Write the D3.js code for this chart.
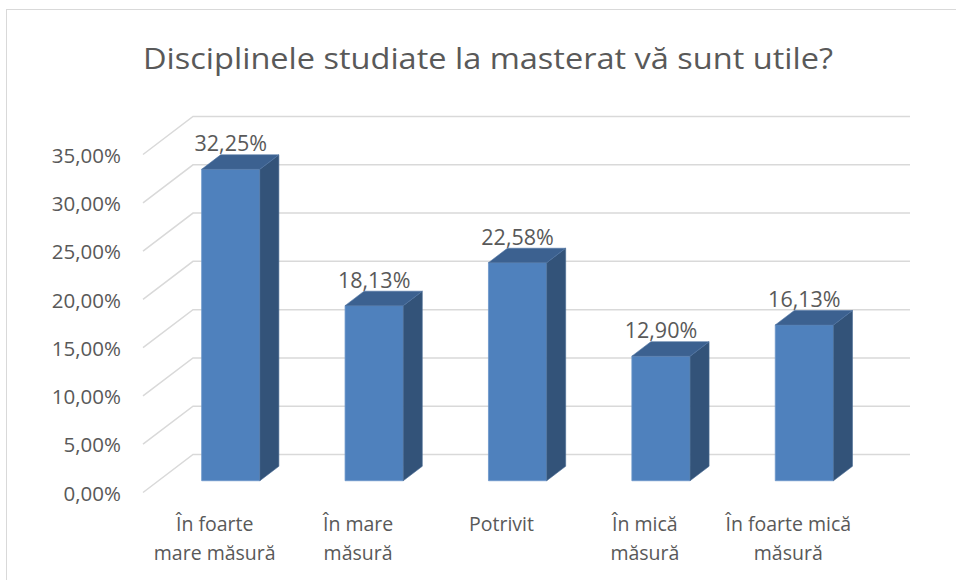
<!DOCTYPE html>
<html>
<head>
<meta charset="utf-8">
<script src="https://cdn.jsdelivr.net/npm/d3@7"></script>
<style>
  body { margin: 0; background: #fff; }
  text { font-family: "Open Sans", "DejaVu Sans", sans-serif; fill: #595959; }
</style>
</head>
<body>
<div id="chart"></div>
<script>
// data
var title = "Disciplinele studiate la masterat vă sunt utile?"
var categories = ["În foarte\nmare măsură", "În mare\nmăsură", "Potrivit", "În mică\nmăsură", "În foarte mică\nmăsură"]
var values = [32.25, 18.13, 22.58, 12.90, 16.13]
var yMax = 35

var width = 956,
    height = 580

// 3d look: oblique offset for the whole depth of the floor
var depthX = 50,
    depthY = 38,
    floorY = 492.5,
    z1 = 0.31,   // front of the bars
    z2 = 0.69    // back of the bars

var svg = d3.select("#chart")
    .append("svg")
        .attr("width", width)
        .attr("height", height)

// chart area border
svg.append("rect")
    .attr("x", 6.5)
    .attr("y", 9.5)
    .attr("width", 1000)
    .attr("height", 1000)
    .attr("fill", "none")
    .attr("stroke", "#d9d9d9")

var x = d3.scaleBand()
    .domain(categories)
    .range([143, 860])

var y = d3.scaleLinear()
    .domain([0, yMax])
    .range([0, 338])

var pl = d3.formatLocale({decimal: ",", thousands: ".", grouping: [3], currency: ["", ""]})
var fmt = pl.format(".2f")

// project a point (front-plane x, value, depth 0..1) onto the screen
function proj(px, v, z) {
    return [px + z * depthX, floorY - y(v) - z * depthY]
}

// gridlines: side wall then back wall
var ticks = y.ticks(7)
svg.selectAll(".grid")
    .data(ticks)
    .enter()
    .append("polyline")
        .attr("class", "grid")
        .attr("points", function(d) {
            return [proj(x.range()[0], d, 0), proj(x.range()[0], d, 1), proj(x.range()[1], d, 1)].join(" ")
        })
        .attr("fill", "none")
        .attr("stroke", "#d9d9d9")
        .attr("stroke-width", 1.5)

svg.selectAll(".tick")
    .data(ticks)
    .enter()
    .append("text")
        .attr("class", "tick")
        .attr("x", 121)
        .attr("y", function(d) { return proj(x.range()[0], d, 0)[1] + 1 })
        .attr("dy", "0.35em")
        .attr("text-anchor", "end")
        .attr("font-size", "20.5px")
        .text(function(d) { return fmt(d) + "%" })

// bars
var bw = x.bandwidth()
var bars = svg.selectAll(".bar")
    .data(categories)
    .enter()
    .append("g")
        .attr("class", "bar")

function face(pts) { return "M" + pts.join("L") + "Z" }

bars.each(function(c, i) {
    var g = d3.select(this)
    var v = values[i]
    var xl = x(c) + bw * 0.301,
        xr = xl + bw * 0.406
    g.append("path")
        .attr("d", face([proj(xl, 0, z1), proj(xr, 0, z1), proj(xr, v, z1), proj(xl, v, z1)]))
        .attr("fill", "#4f81bd")
        .attr("stroke", "#6b95c9")
        .attr("stroke-width", 0.8)
    g.append("path")
        .attr("d", face([proj(xr, 0, z1), proj(xr, 0, z2), proj(xr, v, z2), proj(xr, v, z1)]))
        .attr("fill", "#335379")
        .attr("stroke", "#4a6c96")
        .attr("stroke-width", 0.6)
    g.append("path")
        .attr("d", face([proj(xl, v, z1), proj(xr, v, z1), proj(xr, v, z2), proj(xl, v, z2)]))
        .attr("fill", "#3c6190")
        .attr("stroke", "#4f74a3")
        .attr("stroke-width", 0.6)
    // value label, centered on the front face, just above the top
    g.append("text")
        .attr("x", (xl + xr) / 2 + z1 * depthX)
        .attr("y", proj(xl, v, z2)[1] - 3.5)
        .attr("text-anchor", "middle")
        .attr("font-size", "21.5px")
        .text(fmt(v) + "%")
})

// category labels (two lines max)
svg.selectAll(".cat")
    .data(categories)
    .enter()
    .append("text")
        .attr("class", "cat")
        .attr("text-anchor", "middle")
        .attr("font-size", "19.5px")
        .each(function(c) {
            var t = d3.select(this)
            c.split("\n").forEach(function(line, k) {
                t.append("tspan")
                    .attr("x", x(c) + bw / 2)
                    .attr("y", 530.5 + k * 29.5)
                    .text(line)
            })
        })

// title
svg.append("text")
    .attr("x", 488)
    .attr("y", 69)
    .attr("text-anchor", "middle")
    .attr("font-size", "30px")
    .attr("textLength", 690)
    .attr("lengthAdjust", "spacingAndGlyphs")
    .text(title)
</script>
</body>
</html>
